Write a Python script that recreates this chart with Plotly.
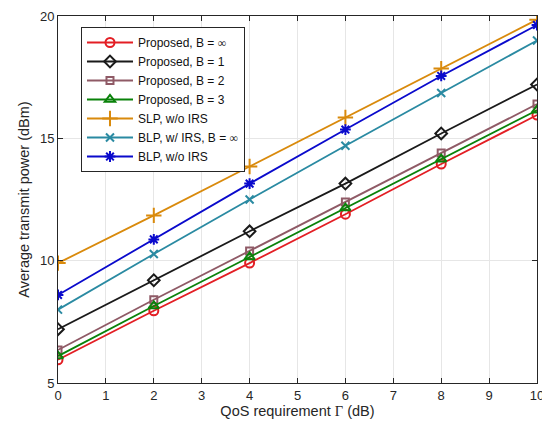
import plotly.graph_objects as go

qos_db = [0, 2, 4, 6, 8, 10]
proposed_inf = [5.95, 7.95, 9.9, 11.9, 13.95, 15.95]
proposed_b1 = [7.2, 9.2, 11.2, 13.15, 15.2, 17.2]
proposed_b2 = [6.35, 8.4, 10.4, 12.4, 14.4, 16.4]
proposed_b3 = [6.1, 8.15, 10.15, 12.15, 14.15, 16.15]
slp_no_irs = [9.9, 11.85, 13.85, 15.85, 17.85, 19.85]
blp_irs_inf = [8.0, 10.27, 12.5, 14.7, 16.85, 19.0]
blp_no_irs = [8.6, 10.87, 13.15, 15.36, 17.55, 19.63]

x_ticks = list(range(0, 11))
y_ticks = [5, 10, 15, 20]

INF = '<span style="font-family:Liberation Serif">∞</span>'
series = [
    ("Proposed, B = " + INF, proposed_inf, "#e31e24", "circle-open", 9),
    ("Proposed, B = 1", proposed_b1, "#1a1a1a", "diamond-open", 9),
    ("Proposed, B = 2", proposed_b2, "#8f5a66", "square-open", 7),
    ("Proposed, B = 3", proposed_b3, "#0a820a", "triangle-up-open", 9),
    ("SLP, w/o IRS", slp_no_irs, "#d98a0c", "cross-thin-open", 11),
    ("BLP, w/ IRS, B = " + INF, blp_irs_inf, "#2a8aa2", "x-thin-open", 8),
    ("BLP, w/o IRS", blp_no_irs, "#0a0acc", "asterisk-open", 9),
]

fig = go.Figure()
for name, ys, color, sym, size in series:
    fig.add_trace(go.Scatter(
        x=qos_db, y=ys, name=name, mode="lines+markers",
        line=dict(color=color, width=1.8),
        marker=dict(symbol=sym, size=size, color=color,
                    line=dict(color=color, width=2)),
    ))

axis_common = dict(
    showline=True, linecolor="#262626", linewidth=1, mirror="ticks",
    ticks="inside", ticklen=5, tickcolor="#262626",
    showgrid=True, gridcolor="#e6e6e6", gridwidth=1, zeroline=False,
    automargin=False, ticklabeloverflow="allow",
    tickfont=dict(family="Liberation Sans, Arial", size=13, color="#262626"),
)

fig.update_layout(
    width=550, height=431,
    margin=dict(l=50, r=21, t=8, b=56),
    paper_bgcolor="white", plot_bgcolor="white",
    font=dict(family="Liberation Sans, Arial", size=13, color="#262626"),
    xaxis=dict(range=[0, 10], tickvals=x_ticks,
               title=dict(text='QoS requirement <span style="font-family:Liberation Serif">Γ</span> (dB)',
                          font=dict(size=14.5), standoff=0),
               **axis_common),
    yaxis=dict(range=[5, 20], tickvals=y_ticks,
               title=dict(text="Average transmit power (dBm)", font=dict(size=14.5), standoff=6),
               **axis_common),
    legend=dict(x=0.048, y=0.97, xanchor="left", yanchor="top",
                bgcolor="white", bordercolor="#262626", borderwidth=1,
                font=dict(size=12, color="#111111"), itemwidth=46,
                tracegroupgap=0),
    showlegend=True,
)

fig.write_html("out.html")
